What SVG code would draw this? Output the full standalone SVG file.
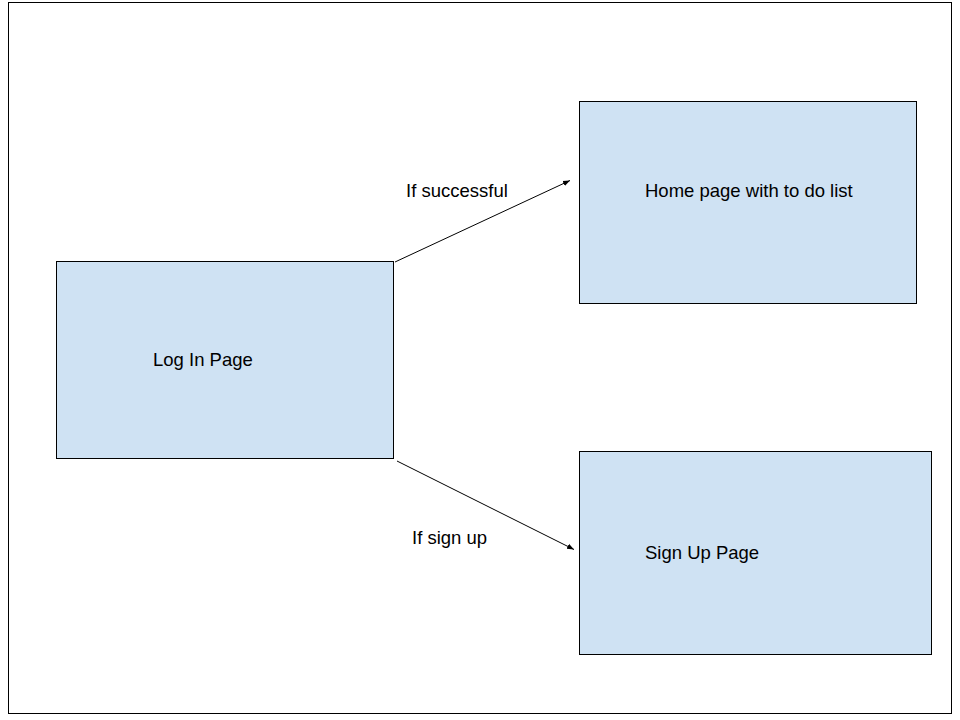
<svg xmlns="http://www.w3.org/2000/svg" width="960" height="720" viewBox="0 0 960 720">
  <style>
    .box { fill: #cfe2f3; stroke: #000000; stroke-width: 1; }
    .lbl { font-family: "Liberation Sans", Arial, sans-serif; font-size: 18.5px; fill: #000000; }
    .conn { stroke: #000000; stroke-width: 1; fill: none; marker-end: url(#arr); }
  </style>
  <defs>
    <marker id="arr" viewBox="0 0 10 10" refX="10" refY="5" markerWidth="7" markerHeight="7" markerUnits="userSpaceOnUse" orient="auto">
      <path d="M0,1 L10,5 L0,9 z" fill="#000000"/>
    </marker>
  </defs>
  <rect x="0" y="0" width="960" height="720" fill="#ffffff"/>
  <rect x="8.5" y="2.5" width="943" height="711" fill="none" stroke="#000000" stroke-width="1"/>
  <g id="login">
    <rect class="box" x="56.5" y="261.5" width="337" height="197"/>
    <text class="lbl" x="153" y="366">Log In Page</text>
  </g>
  <g id="home">
    <rect class="box" x="579.5" y="101.5" width="337" height="202"/>
    <text class="lbl" x="645" y="197">Home page with to do list</text>
  </g>
  <g id="signup">
    <rect class="box" x="579.5" y="451.5" width="352" height="203"/>
    <text class="lbl" x="645" y="559">Sign Up Page</text>
  </g>
  <g id="connectors">
    <line class="conn" x1="395" y1="262" x2="570" y2="180.5"/>
    <line class="conn" x1="397" y1="461" x2="574" y2="549.5"/>
    <text class="lbl" x="406" y="197">If successful</text>
    <text class="lbl" x="412" y="544">If sign up</text>
  </g>
</svg>
